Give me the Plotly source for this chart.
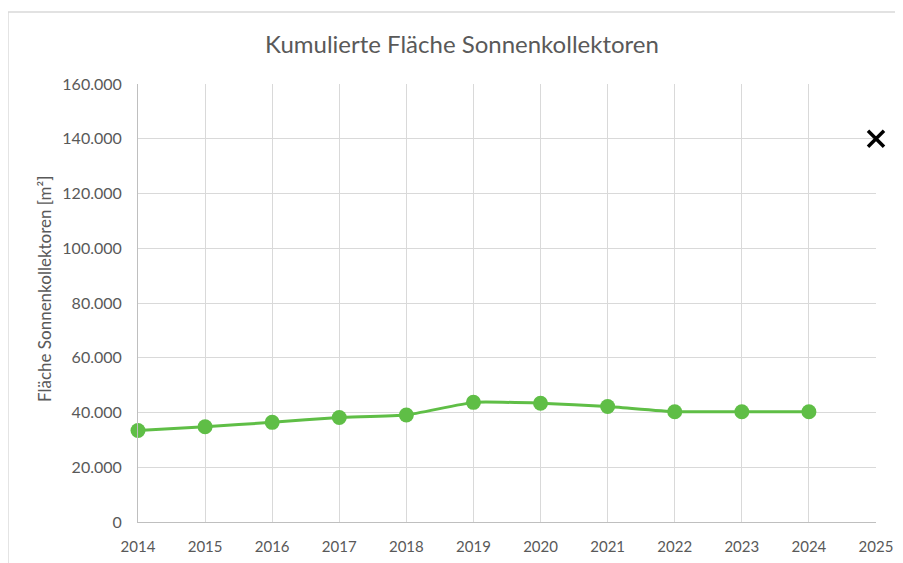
import plotly.graph_objects as go

years = [2014, 2015, 2016, 2017, 2018, 2019, 2020, 2021, 2022, 2023, 2024]
area = [33400, 34800, 36400, 38200, 39100, 43700, 43400, 42200, 40300, 40300, 40300]
target_year = [2025]
target_val = [140000]
y_ticks = [0, 20000, 40000, 60000, 80000, 100000, 120000, 140000, 160000]

FONT = "Lato"
GREY = "#595959"

fig = go.Figure()
fig.add_trace(go.Scatter(
    x=years, y=area, mode="lines+markers",
    line=dict(color="#5FBE46", width=3, shape="spline", smoothing=0.4),
    marker=dict(color="#5FBE46", size=15),
    cliponaxis=False, showlegend=False,
))
fig.add_trace(go.Scatter(
    x=target_year, y=target_val, mode="markers",
    marker=dict(symbol="x-thin", size=16, color="black", line=dict(width=3.5, color="black")),
    cliponaxis=False, showlegend=False,
))

# chart area border (left and top edges visible)
fig.add_shape(type="path", xref="paper", yref="paper",
              path="M -0.1762,-0.12 L -0.1762,1.1644 L 1.12,1.1644",
              line=dict(color="#D9D9D9", width=1.5))

# y-axis title as annotation (positioned like the reference)
fig.add_annotation(text="Fläche Sonnenkollektoren [m²]", xref="paper", yref="paper",
                   x=-0.126, y=0.532, textangle=-90, showarrow=False,
                   xanchor="center", yanchor="middle",
                   font=dict(family=FONT, size=17, color=GREY))

fig.update_layout(
    width=903, height=563,
    margin=dict(l=130, r=35, t=76, b=49),
    paper_bgcolor="white", plot_bgcolor="white",
    separators=",.",
    font=dict(family=FONT, color=GREY, size=15),
    title=dict(text="Kumulierte Fläche Sonnenkollektoren", x=454 / 903, xanchor="center",
               y=1 - 37 / 563, yanchor="middle",
               font=dict(family=FONT, size=24, color=GREY)),
    xaxis=dict(range=[2014, 2025], tick0=2014, dtick=1, showgrid=True,
               gridcolor="#D9D9D9", gridwidth=1, showline=True, linecolor="#BFBFBF",
               linewidth=1, zeroline=False, ticks="", ticklabelstandoff=11,
               tickfont=dict(family=FONT, size=15, color=GREY)),
    yaxis=dict(range=[0, 160000], tickvals=y_ticks, tickformat=",d", showgrid=True,
               gridcolor="#D9D9D9", gridwidth=1, showline=True, linecolor="#BFBFBF",
               linewidth=1, zeroline=False, ticks="", ticklabelstandoff=12,
               tickfont=dict(family=FONT, size=16, color=GREY)),
)

fig.write_html("out.html")
